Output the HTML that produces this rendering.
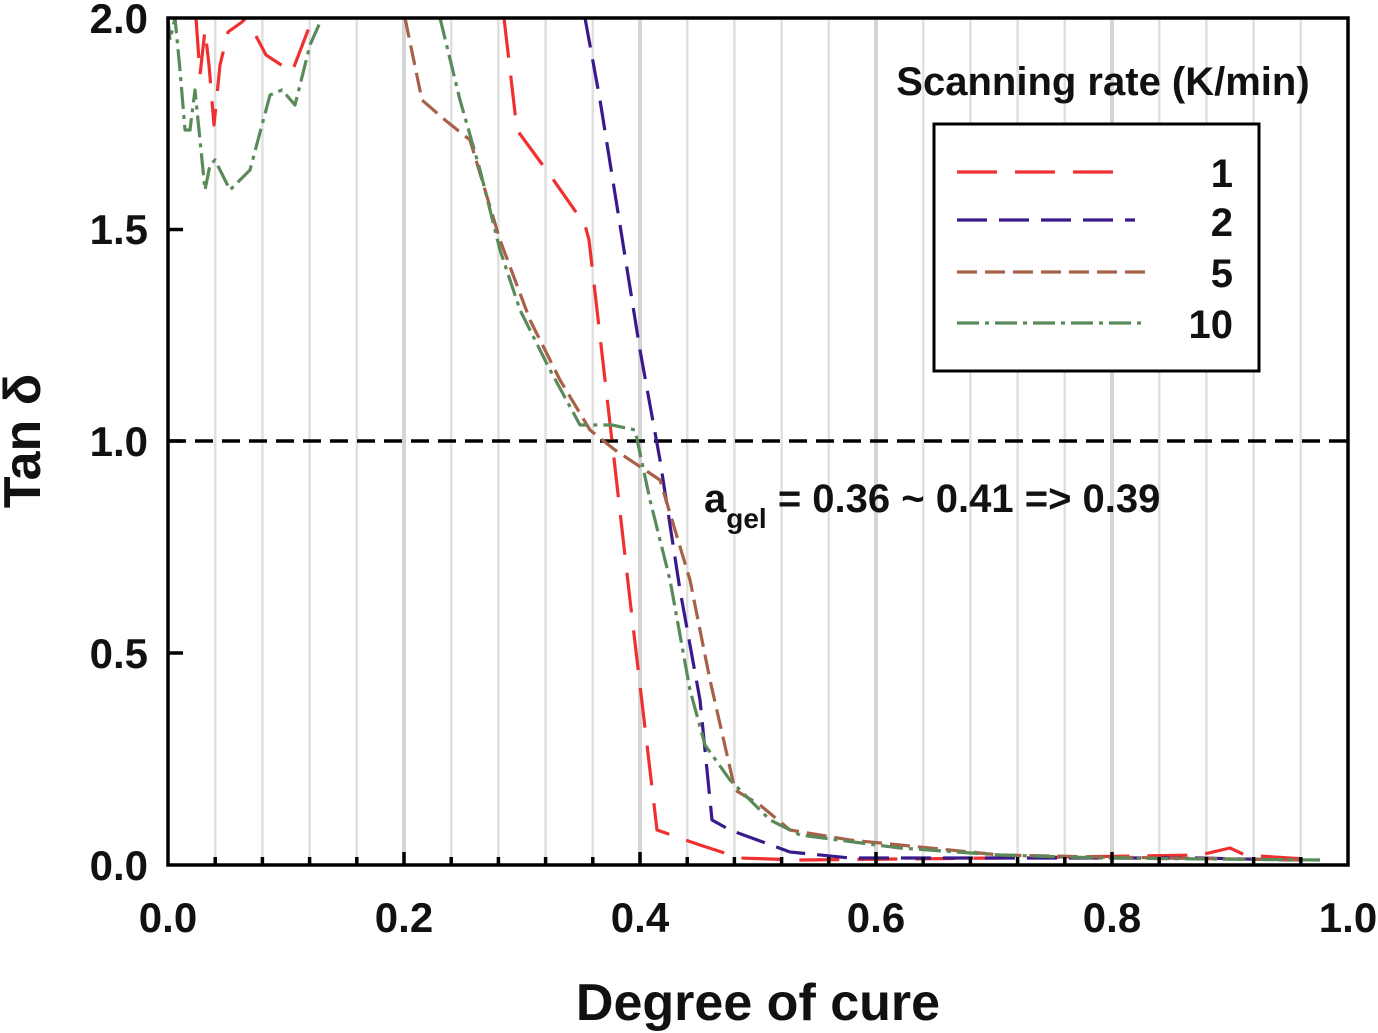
<!DOCTYPE html>
<html><head><meta charset="utf-8"><style>body{margin:0;background:#fff}svg{display:block}</style></head>
<body>
<svg width="1378" height="1033" viewBox="0 0 1378 1033" xmlns="http://www.w3.org/2000/svg" font-family="Liberation Sans, sans-serif" font-weight="bold">
<g stroke="#e0e0e0" stroke-width="2.5">
<line x1="215.2" y1="18" x2="215.2" y2="865"/><line x1="262.4" y1="18" x2="262.4" y2="865"/><line x1="309.6" y1="18" x2="309.6" y2="865"/><line x1="356.8" y1="18" x2="356.8" y2="865"/>
<line x1="451.2" y1="18" x2="451.2" y2="865"/><line x1="498.4" y1="18" x2="498.4" y2="865"/><line x1="545.6" y1="18" x2="545.6" y2="865"/><line x1="592.8" y1="18" x2="592.8" y2="865"/>
<line x1="687.2" y1="18" x2="687.2" y2="865"/><line x1="734.4" y1="18" x2="734.4" y2="865"/><line x1="781.6" y1="18" x2="781.6" y2="865"/><line x1="828.8" y1="18" x2="828.8" y2="865"/>
<line x1="923.2" y1="18" x2="923.2" y2="865"/><line x1="970.4" y1="18" x2="970.4" y2="865"/><line x1="1017.6" y1="18" x2="1017.6" y2="865"/><line x1="1064.8" y1="18" x2="1064.8" y2="865"/>
<line x1="1159.2" y1="18" x2="1159.2" y2="865"/><line x1="1206.4" y1="18" x2="1206.4" y2="865"/><line x1="1253.6" y1="18" x2="1253.6" y2="865"/><line x1="1300.8" y1="18" x2="1300.8" y2="865"/>
</g>
<g stroke="#d4d4d4" stroke-width="4">
<line x1="404" y1="18" x2="404" y2="865"/><line x1="640" y1="18" x2="640" y2="865"/><line x1="876" y1="18" x2="876" y2="865"/><line x1="1112" y1="18" x2="1112" y2="865"/>
</g>
<line x1="168" y1="441" x2="1348" y2="441" stroke="#000" stroke-width="3.5" stroke-dasharray="18,9"/>
<g fill="none" stroke-width="3.2" stroke-linejoin="round">
<polyline stroke="#f03030" stroke-dasharray="40,18" points="196,18 200,75 205,30 209,65 214,125 220,65 228,32 242,22 246,18"/>
<polyline stroke="#f03030" points="256,36 266,55 292,72 310,25 318,18" stroke-dasharray="40,18"/>
<polyline stroke="#f03030" stroke-dasharray="40,18" points="504,18 517,130 550,175 585,225 589,240 612,441 630,600 657,830 700,845 740,858 800,860 1000,858 1200,855 1230,848 1245,855 1320,860"/>
<polyline stroke="#3a1a8a" stroke-dasharray="30,12" points="585,18 600,100 640,350 660,460 680,590 700,700 712,820 730,830 790,852 850,858 1200,858 1290,860"/>
<polyline stroke="#a86048" stroke-dasharray="20,8" points="405,18 422,100 445,120 470,140 500,240 530,320 560,380 590,430 615,450 660,480 690,580 710,680 735,790 760,805 790,830 850,840 900,845 1000,855 1100,857 1300,860"/>
<polyline stroke="#5a8a5a" stroke-dasharray="22,6,4,6" points="168,18 170,40 175,18 180,70 185,130 190,130 195,90 200,140 205,190 210,165 215,160 230,190 250,170 270,95 282,90 295,105 310,45 322,18"/>
<polyline stroke="#5a8a5a" stroke-dasharray="22,6,4,6" points="440,18 460,100 480,170 500,250 520,310 550,370 580,425 612,425 635,430 650,500 670,580 690,690 705,745 730,780 770,820 800,835 900,848 1000,855 1100,858 1320,860"/>
</g>
<rect x="168" y="18" width="1180" height="847" fill="none" stroke="#000" stroke-width="3.5"/>
<g stroke="#000" stroke-width="3.5">
<line x1="168" y1="229.5" x2="183" y2="229.5"/><line x1="168" y1="441" x2="183" y2="441"/><line x1="168" y1="653" x2="183" y2="653"/>
<line x1="215.2" y1="865" x2="215.2" y2="857"/><line x1="262.4" y1="865" x2="262.4" y2="857"/><line x1="309.6" y1="865" x2="309.6" y2="857"/><line x1="356.8" y1="865" x2="356.8" y2="857"/><line x1="404" y1="865" x2="404" y2="852"/>
<line x1="451.2" y1="865" x2="451.2" y2="857"/><line x1="498.4" y1="865" x2="498.4" y2="857"/><line x1="545.6" y1="865" x2="545.6" y2="857"/><line x1="592.8" y1="865" x2="592.8" y2="857"/><line x1="640" y1="865" x2="640" y2="852"/>
<line x1="687.2" y1="865" x2="687.2" y2="857"/><line x1="734.4" y1="865" x2="734.4" y2="857"/><line x1="781.6" y1="865" x2="781.6" y2="857"/><line x1="828.8" y1="865" x2="828.8" y2="857"/><line x1="876" y1="865" x2="876" y2="852"/>
<line x1="923.2" y1="865" x2="923.2" y2="857"/><line x1="970.4" y1="865" x2="970.4" y2="857"/><line x1="1017.6" y1="865" x2="1017.6" y2="857"/><line x1="1064.8" y1="865" x2="1064.8" y2="857"/><line x1="1112" y1="865" x2="1112" y2="852"/>
<line x1="1159.2" y1="865" x2="1159.2" y2="857"/><line x1="1206.4" y1="865" x2="1206.4" y2="857"/><line x1="1253.6" y1="865" x2="1253.6" y2="857"/><line x1="1300.8" y1="865" x2="1300.8" y2="857"/>
</g>
<g font-size="42" text-anchor="end" fill="#111">
<text x="148" y="33">2.0</text><text x="148" y="244">1.5</text><text x="148" y="456">1.0</text><text x="148" y="668">0.5</text><text x="148" y="880">0.0</text>
</g>
<g font-size="42" text-anchor="middle" fill="#111">
<text x="168" y="932">0.0</text><text x="404" y="932">0.2</text><text x="640" y="932">0.4</text><text x="876" y="932">0.6</text><text x="1112" y="932">0.8</text><text x="1348" y="932">1.0</text>
</g>
<text x="758" y="1020" font-size="52" text-anchor="middle" fill="#111">Degree of cure</text>
<text transform="translate(40,441) rotate(-90)" font-size="52" text-anchor="middle" fill="#111">Tan δ</text>
<text x="704" y="512" font-size="40" fill="#111">a<tspan font-size="28" dy="16">gel</tspan><tspan dy="-16"> = 0.36 ~ 0.41 =&gt; 0.39</tspan></text>
<text x="1103" y="95" font-size="40" text-anchor="middle" fill="#111">Scanning rate (K/min)</text>
<rect x="934" y="124" width="325" height="247" fill="#fff" stroke="#000" stroke-width="3"/>
<g stroke-width="3.2">
<line x1="957" y1="172" x2="1130" y2="172" stroke="#f03030" stroke-dasharray="40,18"/>
<line x1="957" y1="220" x2="1135" y2="220" stroke="#3a1a8a" stroke-dasharray="30,12"/>
<line x1="957" y1="272" x2="1145" y2="272" stroke="#a86048" stroke-dasharray="20,8"/>
<line x1="957" y1="323" x2="1145" y2="323" stroke="#5a8a5a" stroke-dasharray="22,6,4,6"/>
</g>
<g font-size="40" text-anchor="end" fill="#111">
<text x="1233" y="187">1</text><text x="1233" y="236">2</text><text x="1233" y="287">5</text><text x="1233" y="338">10</text>
</g>
</svg>
</body></html>
